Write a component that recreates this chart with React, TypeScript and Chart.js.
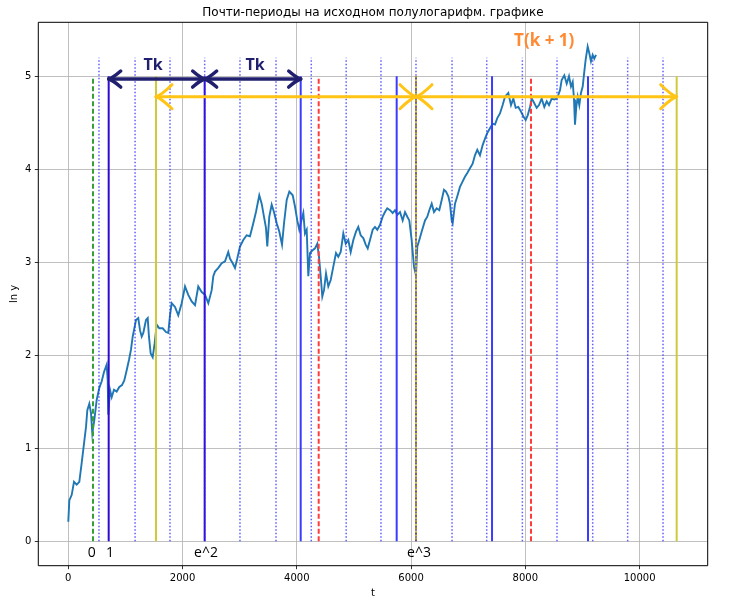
import { useEffect, useRef } from 'react'
import { Chart, registerables, type Plugin } from 'chart.js'

Chart.register(...registerables)

// series (t, ln y)
const tVals = [
  0, 18, 60, 100, 147, 193, 234, 275, 310, 333, 368, 397, 420, 455, 497, 543, 585, 625, 672, 690,
  700, 730, 760, 800, 847, 893, 940, 980, 1022, 1062, 1097, 1127, 1150, 1185, 1225, 1255, 1285, 1313, 1360, 1390,
  1412, 1442, 1477, 1512, 1547, 1593, 1652, 1710, 1750, 1780, 1810, 1868, 1925, 1985, 2043, 2100, 2160, 2218, 2275, 2335,
  2393, 2451, 2510, 2538, 2568, 2626, 2685, 2743, 2800, 2830, 2878, 2918, 2958, 3005, 3063, 3122, 3180, 3238, 3285, 3343,
  3385, 3425, 3460, 3483, 3518, 3560, 3600, 3648, 3693, 3741, 3776, 3823, 3869, 3928, 3968, 4008, 4043, 4080, 4114, 4143,
  4173, 4201, 4231, 4278, 4318, 4358, 4388, 4418, 4446, 4476, 4511, 4551, 4593, 4638, 4686, 4726, 4768, 4814, 4856, 4901,
  4943, 4989, 5036, 5076, 5118, 5164, 5206, 5241, 5281, 5328, 5368, 5408, 5455, 5503, 5543, 5583, 5631, 5678, 5718, 5759,
  5806, 5853, 5894, 5934, 5969, 6010, 6051, 6086, 6109, 6144, 6186, 6244, 6284, 6319, 6361, 6401, 6448, 6494, 6536, 6576,
  6611, 6652, 6681, 6711, 6728, 6769, 6809, 6856, 6903, 6943, 6984, 7031, 7078, 7118, 7159, 7206, 7253, 7294, 7334, 7381,
  7428, 7469, 7509, 7556, 7603, 7644, 7702, 7749, 7790, 7831, 7877, 7924, 7964, 8006, 8041, 8082, 8111, 8157, 8199, 8239,
  8286, 8332, 8374, 8414, 8461, 8507, 8549, 8577, 8607, 8636, 8682, 8724, 8764, 8799, 8829, 8852, 8869, 8892, 8917, 8945,
  8974, 9004, 9032, 9056, 9091, 9119, 9149, 9179, 9207, 9237,
]
const lnY = [
  0.21, 0.44, 0.50, 0.64, 0.61, 0.64, 0.84, 1.05, 1.23, 1.41, 1.48, 1.38, 1.16, 1.30, 1.52, 1.65, 1.72, 1.82, 1.90, 1.73,
  1.36, 1.63, 1.55, 1.63, 1.61, 1.66, 1.68, 1.73, 1.84, 1.95, 2.06, 2.20, 2.27, 2.38, 2.40, 2.27, 2.20, 2.24, 2.38, 2.40,
  2.20, 2.02, 1.98, 2.13, 2.33, 2.29, 2.29, 2.25, 2.24, 2.43, 2.56, 2.52, 2.43, 2.56, 2.74, 2.65, 2.58, 2.54, 2.74, 2.68,
  2.65, 2.56, 2.70, 2.85, 2.90, 2.94, 2.99, 3.01, 3.11, 3.04, 2.99, 2.94, 3.04, 3.17, 3.24, 3.29, 3.28, 3.42, 3.54, 3.72,
  3.63, 3.49, 3.37, 3.17, 3.49, 3.62, 3.54, 3.42, 3.33, 3.19, 3.42, 3.67, 3.76, 3.72, 3.60, 3.45, 3.35, 3.45, 3.53, 3.31,
  3.35, 2.85, 3.10, 3.13, 3.15, 3.20, 3.06, 2.85, 2.63, 2.70, 2.88, 2.74, 2.81, 2.95, 3.10, 3.06, 3.11, 3.31, 3.20, 3.24,
  3.11, 3.24, 3.33, 3.38, 3.29, 3.26, 3.19, 3.15, 3.24, 3.35, 3.38, 3.35, 3.40, 3.49, 3.54, 3.58, 3.56, 3.53, 3.56, 3.51,
  3.54, 3.45, 3.54, 3.49, 3.45, 3.24, 2.95, 2.86, 3.17, 3.24, 3.33, 3.45, 3.49, 3.56, 3.63, 3.54, 3.58, 3.56, 3.67, 3.78,
  3.76, 3.71, 3.63, 3.45, 3.42, 3.63, 3.71, 3.81, 3.87, 3.92, 3.96, 4.01, 4.06, 4.15, 4.21, 4.15, 4.26, 4.33, 4.39, 4.44,
  4.49, 4.48, 4.55, 4.60, 4.69, 4.78, 4.82, 4.69, 4.76, 4.66, 4.67, 4.62, 4.57, 4.53, 4.58, 4.67, 4.76, 4.71, 4.66, 4.69,
  4.76, 4.67, 4.73, 4.69, 4.76, 4.75, 4.76, 4.80, 4.85, 4.96, 5.01, 4.92, 5.00, 4.89, 4.94, 4.75, 4.48, 4.67, 4.78, 4.69,
  4.82, 4.89, 5.05, 5.18, 5.32, 5.25, 5.16, 5.23, 5.19, 5.23,
]

const xTicks = [0, 2000, 4000, 6000, 8000, 10000]
const yTicks = [0, 1, 2, 3, 4, 5]

// vertical markers
const dottedX = [537, 1169, 1780, 2387, 3005, 3636, 4253, 4864, 5473, 6086, 6717, 7324, 7948, 8554, 9179, 9791, 10410]
const dottedTop = 5.2
const blueX = [4068, 5748, 7417, 9097]
const darkBlueX = [707, 2387]
const redX = [4383, 8099]
const greenX = [432]
const yellowX = [1535, 10649]
const brownX = [6086]
const lineTop = 5

// arrows: [from, to]
const tkArrows = [[707, 2387], [2387, 4068]]
const tkArrowY = 4.97
const tk1Arrows = [[1535, 6086], [6086, 10649]]
const tk1ArrowY = 4.78

const tkLabels = [{ x: 1483, y: 5.12, text: 'Tk' }, { x: 3268, y: 5.12, text: 'Tk' }]
const tk1Label = { x: 8330, y: 5.38, text: 'T(k + 1)' }
const pointLabels = [
  { x: 410, text: '0' },
  { x: 730, text: '1' },
  { x: 2411, text: 'e^2' },
  { x: 6139, text: 'e^3' },
]
const pointLabelY = -0.13

function vline(x: number, top: number, color: string, width: number, dash: number[] = []) {
  return {
    type: 'line' as const,
    data: [{ x, y: 0 }, { x, y: top }],
    borderColor: color,
    borderWidth: width,
    borderDash: dash,
    pointRadius: 0,
    order: 0,
  }
}

function drawHead(ctx: CanvasRenderingContext2D, tx: number, ty: number, dir: number, len: number, half: number) {
  ctx.beginPath()
  ctx.moveTo(tx - dir * len, ty - half)
  ctx.quadraticCurveTo(tx - dir * len * 0.35, ty - half * 0.15, tx, ty)
  ctx.quadraticCurveTo(tx - dir * len * 0.35, ty + half * 0.15, tx - dir * len, ty + half)
  ctx.stroke()
}

const overlay: Plugin = {
  id: 'overlay',
  afterDatasetsDraw(chart) {
    const { ctx, chartArea } = chart
    const xs = chart.scales.x
    const ys = chart.scales.y
    ctx.save()
    ctx.lineCap = 'round'
    ctx.lineJoin = 'round'

    // Tk arrows
    ctx.strokeStyle = '#20206e'
    ctx.lineWidth = 3.5
    const ny = ys.getPixelForValue(tkArrowY)
    tkArrows.forEach(([a, b]) => {
      const pa = xs.getPixelForValue(a)
      const pb = xs.getPixelForValue(b)
      ctx.beginPath(); ctx.moveTo(pa, ny); ctx.lineTo(pb, ny); ctx.stroke()
      drawHead(ctx, pa, ny, -1, 12, 8)
      drawHead(ctx, pb, ny, 1, 12, 8)
    })

    // T(k+1) arrows
    ctx.strokeStyle = '#ffc414'
    ctx.lineWidth = 3
    const gy = ys.getPixelForValue(tk1ArrowY)
    tk1Arrows.forEach(([a, b]) => {
      const pa = xs.getPixelForValue(a)
      const pb = xs.getPixelForValue(b)
      ctx.beginPath(); ctx.moveTo(pa, gy); ctx.lineTo(pb, gy); ctx.stroke()
      drawHead(ctx, pa, gy, -1, 16, 12)
      drawHead(ctx, pb, gy, 1, 16, 12)
    })

    ctx.textAlign = 'center'
    ctx.textBaseline = 'middle'
    ctx.fillStyle = '#20206e'
    ctx.font = 'bold 16px "Open Sans"'
    tkLabels.forEach(l => ctx.fillText(l.text, xs.getPixelForValue(l.x), ys.getPixelForValue(l.y)))
    ctx.fillStyle = '#ff8a33'
    ctx.font = 'bold 17px "Open Sans"'
    ctx.fillText(tk1Label.text, xs.getPixelForValue(tk1Label.x), ys.getPixelForValue(tk1Label.y))

    ctx.fillStyle = '#000'
    ctx.font = '14px "Open Sans"'
    pointLabels.forEach(l => ctx.fillText(l.text, xs.getPixelForValue(l.x), ys.getPixelForValue(pointLabelY)))

    // frame
    ctx.strokeStyle = '#000'
    ctx.lineWidth = 1
    ctx.lineCap = 'butt'
    ctx.strokeRect(chartArea.left, chartArea.top, chartArea.right - chartArea.left, chartArea.bottom - chartArea.top)

    // title
    ctx.font = '12px "DejaVu Sans"'
    ctx.textBaseline = 'alphabetic'
    ctx.fillText('Почти-периоды на исходном полулогарифм. графике', (chartArea.left + chartArea.right) / 2, chartArea.top - 6)
    ctx.restore()
  },
}

export default function App() {
  const canvasRef = useRef<HTMLCanvasElement>(null)

  useEffect(() => {
    if (!canvasRef.current) return
    const series = tVals.map((t, i) => ({ x: t, y: lnY[i] }))
    const datasets: any[] = [
      ...dottedX.map(x => vline(x, dottedTop, 'rgba(40,40,255,0.75)', 1.5, [1.5, 2])),
      ...blueX.map(x => vline(x, lineTop, '#3b3bff', 2)),
      ...darkBlueX.map(x => vline(x, lineTop, '#300ad0', 2)),
      ...redX.map(x => vline(x, lineTop, '#ff3b3b', 2, [5, 2.5])),
      ...greenX.map(x => vline(x, lineTop, '#36a036', 2, [5, 2.5])),
      ...brownX.map(x => vline(x, lineTop, '#b88a1e', 2, [3, 3])),
      ...brownX.map(x => vline(x, lineTop, '#d2cb3c', 2)),
      ...yellowX.map(x => vline(x, lineTop, '#cfca3a', 2)),
      {
        type: 'line',
        data: series,
        borderColor: '#1f77b4',
        borderWidth: 1.9,
        pointRadius: 0,
        tension: 0,
        order: 10,
      },
    ]
    const tickFont = { family: 'DejaVu Sans', size: 10 }
    const chart = new Chart(canvasRef.current, {
      type: 'line',
      data: { datasets },
      options: {
        animation: false,
        responsive: true,
        maintainAspectRatio: false,
        layout: { padding: { top: 22.3, right: 29.3, left: 0, bottom: 0 } },
        plugins: { legend: { display: false }, tooltip: { enabled: false }, title: { display: false } },
        scales: {
          x: {
            type: 'linear',
            min: -525,
            max: 11192,
            afterBuildTicks: (s: any) => { s.ticks = xTicks.map(v => ({ value: v })) },
            afterFit: (s: any) => { s.height = 38.3 },
            grid: { color: '#b0b0b0', lineWidth: 0.8, tickColor: '#000', tickLength: 3.5, tickWidth: 0.8 },
            border: { display: false },
            ticks: { color: '#000', font: tickFont, padding: 3, maxRotation: 0, autoSkip: false, callback: (v: any) => String(v) },
            title: { display: true, text: 't', color: '#000', font: tickFont, padding: { top: 0, bottom: 5 } },
          },
          y: {
            type: 'linear',
            min: -0.262,
            max: 5.58,
            afterBuildTicks: (s: any) => { s.ticks = yTicks.map(v => ({ value: v })) },
            afterFit: (s: any) => { s.width = 38.3 },
            grid: { color: '#b0b0b0', lineWidth: 0.8, tickColor: '#000', tickLength: 3.5, tickWidth: 0.8 },
            border: { display: false },
            ticks: { color: '#000', font: tickFont, padding: 3.5, autoSkip: false, callback: (v: any) => String(v) },
            title: { display: true, text: 'ln y', color: '#000', font: tickFont, padding: { top: 8, bottom: 0 } },
          },
        },
      },
      plugins: [overlay],
    })
    return () => chart.destroy()
  }, [])

  return (
    <div style={{ position: 'absolute', left: 0, top: 0, width: 737, height: 604, background: '#fff' }}>
      <canvas ref={canvasRef} />
    </div>
  )
}
